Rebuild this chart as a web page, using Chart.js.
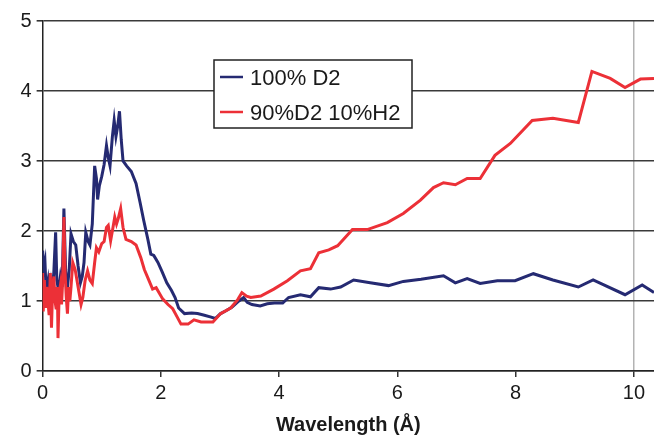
<!DOCTYPE html>
<html>
<head>
<meta charset="utf-8">
<script src="https://cdn.jsdelivr.net/npm/chart.js@4/dist/chart.umd.min.js"></script>
<style>
  html, body { margin: 0; padding: 0; background: #fff; }
  #wrap { width: 654px; height: 439px; }
</style>
</head>
<body>
<div id="wrap"><canvas id="chart" width="654" height="439"></canvas></div>
<script>
// series labels
const seriesNames = ['100% D2', '90%D2 10%H2'];
const seriesColors = ['#252a72', '#ec3037'];

// 100% D2 - wavelength (A) and value
const d2Wavelength = [0.00, 0.02, 0.04, 0.06, 0.09, 0.11, 0.14, 0.16, 0.19, 0.22, 0.24, 0.27, 0.30, 0.33, 0.36, 0.39, 0.42, 0.45, 0.48, 0.52,
  0.56, 0.60, 0.64, 0.67, 0.70, 0.73, 0.77, 0.80, 0.84, 0.88, 0.91, 0.93, 0.96, 1.00, 1.04, 1.08, 1.11, 1.14, 1.18, 1.21,
  1.24, 1.27, 1.30, 1.33, 1.36, 1.42, 1.50, 1.58, 1.65, 1.71, 1.78, 1.83, 1.88, 1.95, 2.02, 2.10, 2.18, 2.24, 2.30, 2.40,
  2.52, 2.62, 2.72, 2.85, 2.92, 3.01, 3.10, 3.20, 3.32, 3.40, 3.46, 3.54, 3.68, 3.80, 3.92, 4.06, 4.16, 4.36, 4.53, 4.67,
  4.87, 5.04, 5.26, 5.54, 5.85, 6.10, 6.40, 6.78, 6.98, 7.18, 7.40, 7.69, 7.99, 8.30, 8.63, 9.06, 9.31, 9.85, 10.14, 10.34];
const d2Values = [1.72, 1.45, 1.55, 1.12, 1.28, 1.05, 1.25, 1.10, 1.42, 1.98, 1.30, 1.15, 1.35, 1.20, 2.32, 1.40, 1.20, 1.45, 1.96, 1.85,
  1.80, 1.50, 1.26, 1.35, 1.55, 1.98, 1.85, 1.80, 2.10, 2.93, 2.75, 2.45, 2.65, 2.78, 2.95, 3.22, 3.05, 2.93, 3.35, 3.58,
  3.35, 3.50, 3.71, 3.30, 3.00, 2.93, 2.85, 2.68, 2.40, 2.15, 1.88, 1.67, 1.65, 1.55, 1.42, 1.26, 1.15, 1.05, 0.90, 0.82,
  0.83, 0.82, 0.80, 0.77, 0.75, 0.82, 0.86, 0.91, 1.00, 1.05, 0.98, 0.95, 0.93, 0.96, 0.97, 0.97, 1.05, 1.09, 1.06, 1.19,
  1.17, 1.20, 1.30, 1.26, 1.22, 1.28, 1.31, 1.36, 1.26, 1.32, 1.25, 1.29, 1.29, 1.39, 1.30, 1.20, 1.30, 1.09, 1.23, 1.12];

// 90% D2 10% H2 - wavelength (A) and value
const mixWavelength = [0.00, 0.01, 0.03, 0.05, 0.07, 0.09, 0.11, 0.13, 0.15, 0.17, 0.19, 0.21, 0.23, 0.25, 0.26, 0.28, 0.30, 0.32, 0.34, 0.36,
  0.38, 0.40, 0.42, 0.44, 0.46, 0.48, 0.51, 0.55, 0.60, 0.65, 0.68, 0.72, 0.76, 0.80, 0.84, 0.88, 0.91, 0.95, 1.00, 1.04,
  1.08, 1.11, 1.15, 1.19, 1.22, 1.25, 1.28, 1.32, 1.36, 1.41, 1.50, 1.58, 1.66, 1.72, 1.78, 1.86, 1.92, 2.03, 2.12, 2.20,
  2.27, 2.34, 2.46, 2.56, 2.68, 2.88, 3.01, 3.18, 3.30, 3.37, 3.45, 3.52, 3.69, 3.91, 4.14, 4.36, 4.53, 4.67, 4.84, 4.99,
  5.24, 5.49, 5.83, 6.10, 6.39, 6.61, 6.78, 6.98, 7.18, 7.40, 7.65, 7.91, 8.28, 8.63, 9.06, 9.29, 9.60, 9.85, 10.11, 10.34];
const mixValues = [1.40, 0.85, 1.30, 0.90, 1.20, 1.00, 0.80, 1.40, 0.62, 1.20, 1.35, 1.00, 0.88, 1.20, 0.47, 1.10, 1.22, 0.95, 1.30, 2.20,
  1.40, 1.05, 0.82, 1.20, 1.00, 1.20, 1.55, 1.45, 1.20, 0.95, 1.05, 1.30, 1.43, 1.30, 1.25, 1.55, 1.76, 1.70, 1.82, 1.85,
  2.05, 2.08, 1.86, 2.05, 2.20, 2.10, 2.18, 2.32, 2.05, 1.88, 1.85, 1.80, 1.62, 1.45, 1.33, 1.17, 1.19, 1.03, 0.95, 0.89,
  0.78, 0.67, 0.67, 0.73, 0.70, 0.70, 0.82, 0.90, 1.02, 1.12, 1.07, 1.05, 1.07, 1.17, 1.29, 1.43, 1.46, 1.69, 1.73, 1.79,
  2.02, 2.02, 2.12, 2.25, 2.44, 2.62, 2.69, 2.66, 2.75, 2.75, 3.08, 3.25, 3.58, 3.61, 3.55, 4.28, 4.18, 4.05, 4.17, 4.18];

// axis ticks
const xTicks = [0, 2, 4, 6, 8, 10];
const yTicks = [0, 1, 2, 3, 4, 5];
const xTitle = 'Wavelength (Å)';

function toPoints(xs, ys) {
  return xs.map((x, i) => ({ x: x, y: ys[i] }));
}

// legend box drawn inside the plot, like the original
const boxLegend = {
  id: 'boxLegend',
  afterDatasetsDraw(chart) {
    const ctx = chart.ctx;
    const x0 = 214, y0 = 60, w = 198, h = 68;
    ctx.save();
    ctx.fillStyle = '#fff';
    ctx.fillRect(x0, y0, w, h);
    ctx.strokeStyle = '#222';
    ctx.lineWidth = 1.5;
    ctx.strokeRect(x0, y0, w, h);
    ctx.font = '22px "Liberation Sans", Arial, sans-serif';
    ctx.textBaseline = 'alphabetic';
    const rows = [77, 112];
    chart.data.datasets.forEach((ds, i) => {
      ctx.strokeStyle = ds.borderColor;
      ctx.lineWidth = 2.5;
      ctx.beginPath();
      ctx.moveTo(220, rows[i]);
      ctx.lineTo(243, rows[i]);
      ctx.stroke();
      ctx.fillStyle = '#1a1a1a';
      ctx.fillText(ds.label, 250, rows[i] + 8);
    });
    ctx.restore();
  }
};

new Chart(document.getElementById('chart'), {
  type: 'line',
  data: {
    datasets: [
      {
        label: seriesNames[0],
        data: toPoints(d2Wavelength, d2Values),
        borderColor: seriesColors[0],
        borderWidth: 3,
        pointRadius: 0,
        tension: 0,
        order: 1
      },
      {
        label: seriesNames[1],
        data: toPoints(mixWavelength, mixValues),
        borderColor: seriesColors[1],
        borderWidth: 3,
        pointRadius: 0,
        tension: 0,
        order: 0
      }
    ]
  },
  options: {
    responsive: false,
    animation: false,
    devicePixelRatio: 1,
    layout: { padding: { top: 21, left: 15.5, right: 0, bottom: 0 } },
    plugins: {
      legend: { display: false },
      tooltip: { enabled: false }
    },
    scales: {
      x: {
        type: 'linear',
        min: 0,
        max: 10.34,
        afterBuildTicks: (scale) => {
          scale.ticks = xTicks.map(v => ({ value: v }));
        },
        ticks: {
          color: '#1a1a1a',
          font: { family: '"Liberation Sans", Arial, sans-serif', size: 20 },
          padding: 4,
          maxRotation: 0
        },
        grid: {
          color: (c) => (c.tick && c.tick.value === 10 ? '#b3b3b3' : 'rgba(0,0,0,0)'),
          lineWidth: 1.5,
          tickColor: '#333',
          tickLength: 6
        },
        border: { color: '#222', width: 1.5 },
        title: {
          display: true,
          text: xTitle,
          color: '#1a1a1a',
          font: { family: '"Liberation Sans", Arial, sans-serif', size: 20, weight: 'bold' },
          padding: { top: 4, bottom: 2 }
        }
      },
      y: {
        min: 0,
        max: 5,
        afterBuildTicks: (scale) => {
          scale.ticks = yTicks.map(v => ({ value: v }));
        },
        ticks: {
          color: '#1a1a1a',
          font: { family: '"Liberation Sans", Arial, sans-serif', size: 20 },
          padding: 5
        },
        grid: {
          color: '#3a3a3a',
          lineWidth: 1.6,
          tickColor: '#333',
          tickLength: 6
        },
        border: { color: '#222', width: 1.5 }
      }
    }
  },
  plugins: [boxLegend]
});
</script>
</body>
</html>
